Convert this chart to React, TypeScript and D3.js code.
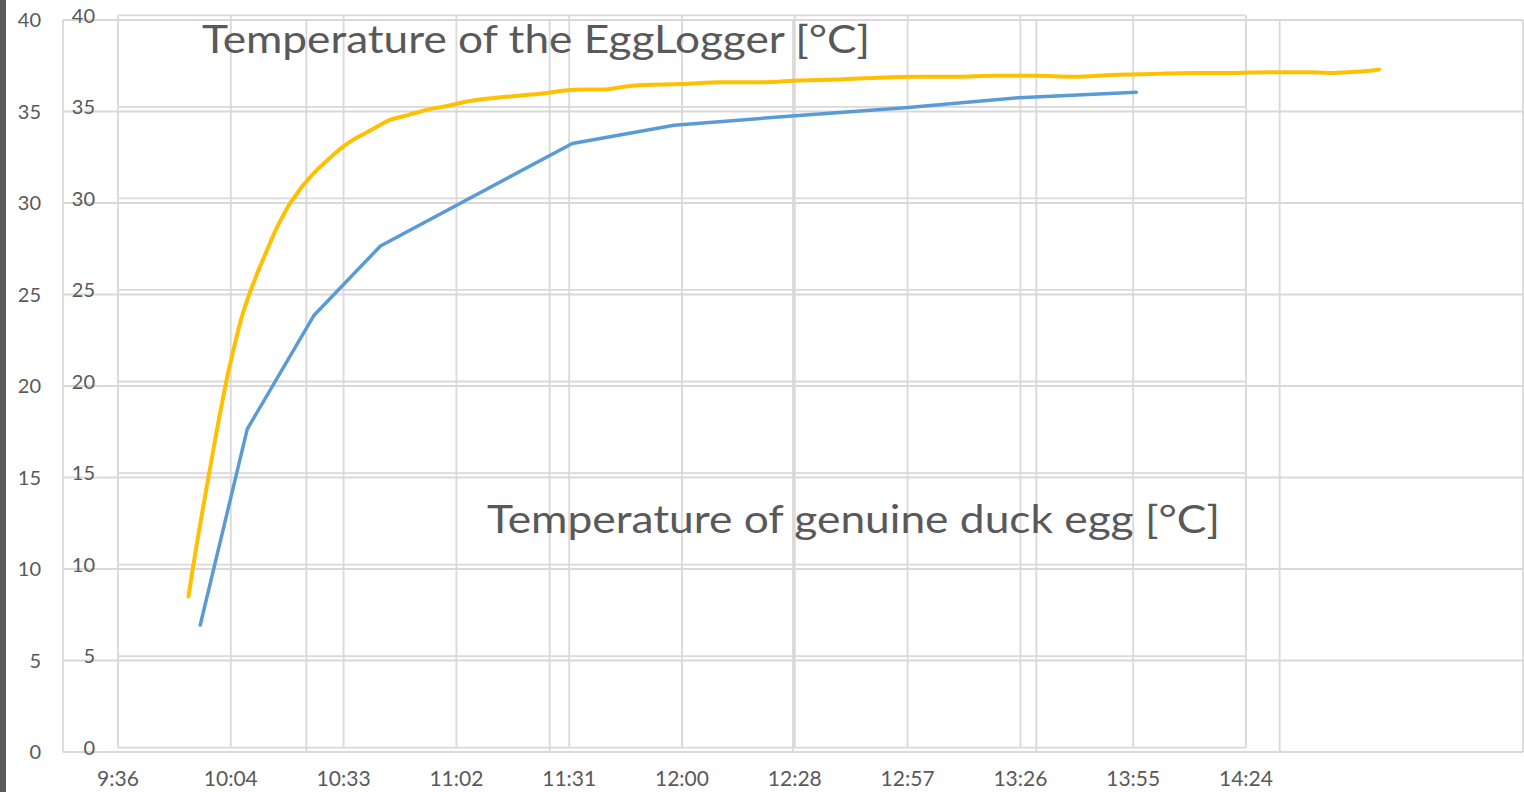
import React from 'react';
import * as d3 from 'd3';

// logger chart (outer) and duck egg chart (inner) are two overlaid sheets
const yTicks = [0, 5, 10, 15, 20, 25, 30, 35, 40];
const xTickLabels = ['9:36', '10:04', '10:33', '11:02', '11:31', '12:00', '12:28', '12:57', '13:26', '13:55', '14:24'];
const loggerGridCount = 6;

// EggLogger readings: [time, °C]
const loggerTimes = [
  '9:54', '9:55', '9:56', '9:57', '9:58', '9:59', '10:00', '10:01', '10:02', '10:03',
  '10:04', '10:05', '10:06', '10:07', '10:08', '10:09', '10:10', '10:11', '10:12', '10:13',
  '10:14', '10:15', '10:16', '10:17', '10:18', '10:19', '10:20', '10:21', '10:22', '10:23',
  '10:24', '10:25', '10:27', '10:30', '10:33', '10:36', '10:39', '10:42', '10:45', '10:50',
  '10:55', '11:00', '11:05', '11:10', '11:15', '11:20', '11:25', '11:30', '11:35', '11:40',
  '11:45', '11:50', '12:00', '12:10', '12:20', '12:30', '12:40', '12:50', '13:00', '13:10',
  '13:20', '13:30', '13:40', '13:50', '14:00', '14:10', '14:20', '14:30', '14:40', '14:45',
  '14:50', '14:54', '14:58',
];
const loggerTemps = [
  8.5, 9.9, 11.2, 12.45, 13.7, 14.9, 16.1, 17.3, 18.45, 19.55,
  20.6, 21.55, 22.45, 23.3, 24.05, 24.7, 25.3, 25.85, 26.4, 26.9,
  27.4, 27.9, 28.4, 28.85, 29.25, 29.65, 30.0, 30.3, 30.6, 30.9,
  31.15, 31.4, 31.85, 32.45, 33.0, 33.45, 33.8, 34.15, 34.5, 34.8,
  35.1, 35.3, 35.55, 35.7, 35.8, 35.9, 36.0, 36.15, 36.2, 36.2,
  36.35, 36.45, 36.5, 36.6, 36.6, 36.7, 36.75, 36.85, 36.9, 36.9,
  36.95, 36.95, 36.9, 37.0, 37.05, 37.1, 37.1, 37.15, 37.15, 37.1,
  37.15, 37.2, 37.3,
];

// genuine duck egg measurements
const eggTimes = ['9:57', '10:09', '10:26', '10:43', '11:32', '11:58', '12:28', '12:57', '13:26', '13:56'];
const eggTemps = [6.7, 17.4, 23.6, 27.4, 33.0, 34.0, 34.5, 34.95, 35.5, 35.8];

const toMin = (s: string) => {
  const [h, m] = s.split(':').map(Number);
  return h * 60 + m;
};

const W = 1524;
const H = 792;
const textColor = '#595959';
const gridColor = '#d9d9d9';
const font = 'Lato, "Open Sans", sans-serif';

export default function App() {
  // time axis (shared)
  const x = d3.scaleLinear().domain([toMin('9:36'), toMin('14:24')]).range([118, 1246]);
  const xTickValues = xTickLabels.map((_, i) => toMin('9:36') + i * 28.8);

  // outer logger chart
  const yA = d3.scaleLinear().domain([0, 40]).range([752, 20]);
  const xA = d3.scaleLinear().domain([0, loggerGridCount]).range([63, 1523]);
  // inner duck egg chart
  const yB = d3.scaleLinear().domain([0, 40]).range([747.7, 15.3]);

  const logger = loggerTimes.map((t, i) => ({ t: toMin(t), v: loggerTemps[i] }));
  const egg = eggTimes.map((t, i) => ({ t: toMin(t), v: eggTemps[i] }));

  const loggerLine = d3.line<{ t: number; v: number }>()
    .x(d => x(d.t))
    .y(d => yA(d.v))
    .curve(d3.curveMonotoneX);
  const eggLine = d3.line<{ t: number; v: number }>().x(d => x(d.t)).y(d => yB(d.v));

  return (
    <svg width={W} height={H} style={{ position: 'absolute', left: 0, top: 0, display: 'block', background: '#fff' }} fontFamily={font}>
      <rect x={0} y={0} width={W} height={H} fill="#fff" />
      <rect x={0} y={0} width={6} height={H} fill="#595959" />

      {/* outer chart grid */}
      <g stroke={gridColor} strokeWidth={1.8}>
        {yTicks.map(v => (
          <line key={'ha' + v} x1={63} x2={1523} y1={yA(v)} y2={yA(v)} />
        ))}
        {d3.range(0, loggerGridCount + 1).map(k => (
          <line key={'va' + k} x1={xA(k)} x2={xA(k)} y1={yA(40)} y2={yA(0)} />
        ))}
      </g>

      {/* inner chart grid */}
      <g stroke={gridColor} strokeWidth={1.8}>
        {yTicks.map(v => (
          <line key={'hb' + v} x1={118} x2={1246} y1={yB(v)} y2={yB(v)} />
        ))}
        {xTickValues.map((t, i) => (
          <line key={'vb' + i} x1={x(t)} x2={x(t)} y1={yB(40)} y2={yB(0)} />
        ))}
      </g>

      {/* y labels */}
      <g fill={textColor} fontSize={20} textAnchor="end">
        {yTicks.map(v => (
          <text key={'la' + v} x={41} y={yA(v)} dy="0.36em">{v}</text>
        ))}
        {yTicks.map(v => (
          <text key={'lb' + v} x={95} y={yB(v)} dy="0.36em">{v}</text>
        ))}
      </g>

      {/* x labels */}
      <g fill={textColor} fontSize={21} textAnchor="middle">
        {xTickValues.map((t, i) => (
          <text key={'xl' + i} x={x(t)} y={786}>{xTickLabels[i]}</text>
        ))}
      </g>

      <path d={loggerLine(logger) || ''} fill="none" stroke="#ffc000" strokeWidth={4} strokeLinejoin="round" strokeLinecap="round" />
      <path d={eggLine(egg) || ''} fill="none" stroke="#5b9bd5" strokeWidth={3.5} strokeLinejoin="round" strokeLinecap="round" />

      <text x={202} y={53} fill={textColor} fontSize={39} textLength={668} lengthAdjust="spacingAndGlyphs">
        Temperature of the EggLogger [°C]
      </text>
      <text x={487} y={533} fill={textColor} fontSize={39} textLength={733} lengthAdjust="spacingAndGlyphs">
        Temperature of genuine duck egg [°C]
      </text>
    </svg>
  );
}
